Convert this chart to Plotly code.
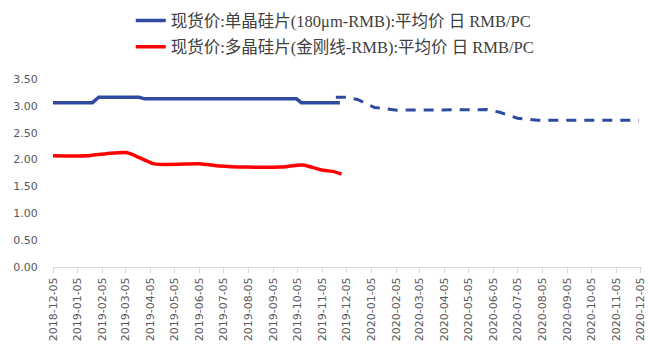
import plotly.graph_objects as go

# 单晶硅片 (180μm) spot price, solid section
mono_dates = ["2018-12-05", "2019-01-23", "2019-01-31", "2019-03-22", "2019-03-29",
              "2019-10-04", "2019-10-10", "2019-11-27"]
mono_vals = [3.06, 3.06, 3.16, 3.16, 3.13, 3.13, 3.06, 3.06]

# 单晶硅片 outlook, dashed section
mono_fc_dates = ["2019-11-22", "2019-12-05", "2019-12-19", "2020-01-09", "2020-02-06",
                 "2020-05-20", "2020-05-28", "2020-06-13", "2020-07-05", "2020-07-30",
                 "2020-12-03"]
mono_fc_vals = [3.16, 3.16, 3.12, 2.97, 2.92, 2.92, 2.93, 2.88, 2.77, 2.73, 2.73]

# 多晶硅片 (金刚线) spot price
multi_dates = ["2018-12-05", "2019-01-16", "2019-02-15", "2019-03-06", "2019-03-16",
               "2019-04-10", "2019-06-05", "2019-06-30", "2019-08-03", "2019-09-13",
               "2019-10-12", "2019-11-06", "2019-11-18", "2019-11-29"]
multi_vals = [2.07, 2.07, 2.12, 2.13, 2.08, 1.92, 1.92, 1.88, 1.86, 1.86,
              1.90, 1.80, 1.78, 1.73]

mono_name = "现货价:单晶硅片(180μm-RMB):平均价 日 RMB/PC"
multi_name = "现货价:多晶硅片(金刚线-RMB):平均价 日 RMB/PC"

tick_dates = ["2018-12-05", "2019-01-05", "2019-02-05", "2019-03-05", "2019-04-05",
              "2019-05-05", "2019-06-05", "2019-07-05", "2019-08-05", "2019-09-05",
              "2019-10-05", "2019-11-05", "2019-12-05", "2020-01-05", "2020-02-05",
              "2020-03-05", "2020-04-05", "2020-05-05", "2020-06-05", "2020-07-05",
              "2020-08-05", "2020-09-05", "2020-10-05", "2020-11-05", "2020-12-05"]
y_ticks = [0, 0.5, 1.0, 1.5, 2.0, 2.5, 3.0, 3.5]

BLUE = "#2F4B9F"
RED = "#FF0000"
TICK_FONT = dict(family="DejaVu Sans", size=11, color="#595959")
LEGEND_FONT = dict(family="Liberation Serif, Noto Sans CJK SC", size=16.5, color="#404040")

fig = go.Figure()
fig.add_trace(go.Scatter(x=mono_dates, y=mono_vals, mode="lines", name=mono_name,
                         line=dict(color=BLUE, width=3.5), legend="legend"))
fig.add_trace(go.Scatter(x=mono_fc_dates, y=mono_fc_vals, mode="lines", showlegend=False,
                         line=dict(color=BLUE, width=3, dash="10px,8px")))
fig.add_trace(go.Scatter(x=multi_dates, y=multi_vals, mode="lines", name=multi_name,
                         line=dict(color=RED, width=3.5, shape="spline", smoothing=0.6),
                         legend="legend2"))

fig.update_layout(
    width=648, height=349,
    margin=dict(l=53, r=6, t=79, b=82, autoexpand=False),
    paper_bgcolor="white", plot_bgcolor="white",
    legend=dict(x=0.132, y=1.31, xanchor="left", yanchor="middle",
                font=LEGEND_FONT, bgcolor="rgba(0,0,0,0)"),
    legend2=dict(x=0.132, y=1.17, xanchor="left", yanchor="middle",
                 font=LEGEND_FONT, bgcolor="rgba(0,0,0,0)"),
)
fig.update_xaxes(
    type="date", range=["2018-12-05", "2020-12-07"],
    tickmode="array", tickvals=tick_dates, ticktext=tick_dates,
    tickangle=-90, tickfont=TICK_FONT,
    showline=True, linecolor="#D9D9D9", linewidth=1,
    ticks="outside", ticklen=5, tickcolor="#D9D9D9",
    showgrid=False, zeroline=False,
)
fig.update_yaxes(
    range=[0, 3.5], tickmode="array", tickvals=y_ticks,
    tickformat=".2f", tickfont=TICK_FONT,
    showline=False, showgrid=False, zeroline=False,
    ticks="outside", ticklen=12, tickcolor="rgba(0,0,0,0)",
)

fig.write_html("out.html")
